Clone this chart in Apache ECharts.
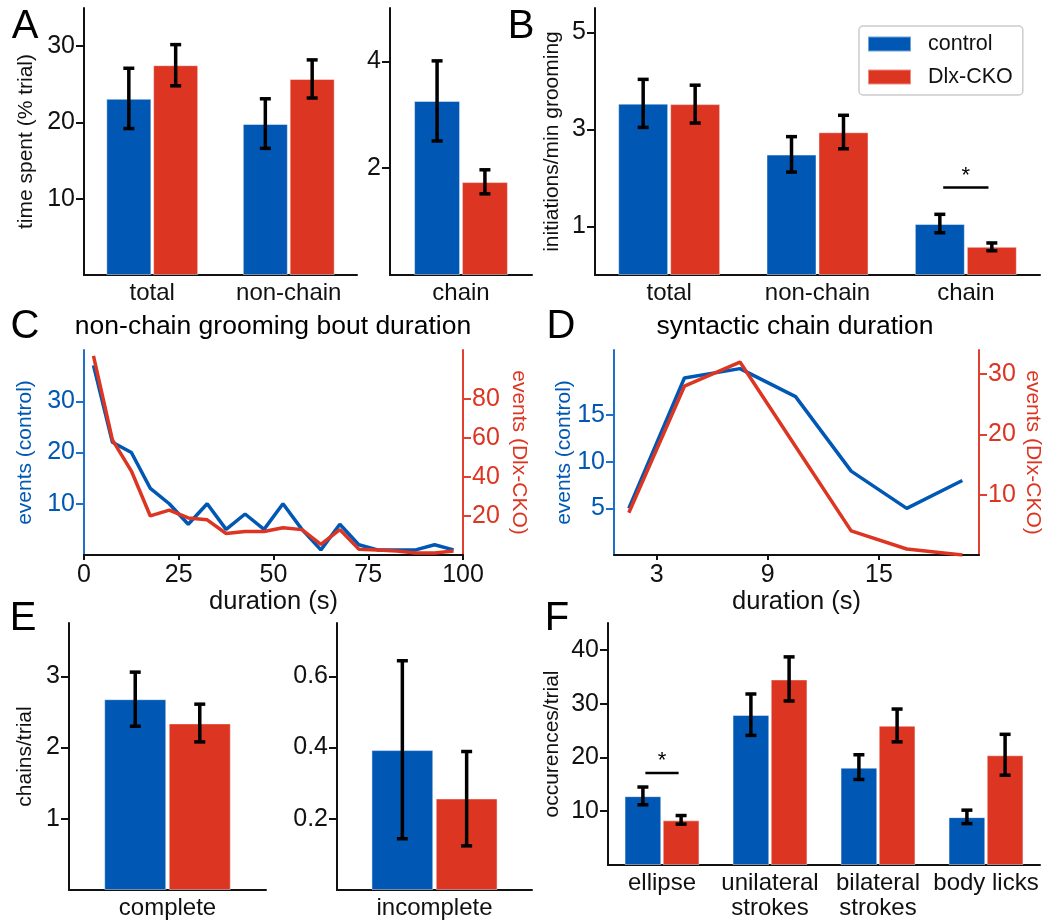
<!DOCTYPE html>
<html>
<head>
<meta charset="utf-8">
<script src="https://cdn.jsdelivr.net/npm/echarts@6/dist/echarts.min.js"></script>
<style>html,body{margin:0;padding:0;background:#fff}#main{width:1063px;height:921px}</style>
</head>
<body>
<div id="main"></div>
<script>
const BLUE = '#0058B4';
const RED = '#DC3522';
const AXBLUE = '#1F6FCC';
const AXRED = '#E0402F';
const FONT = '"Liberation Sans", Arial, Helvetica, sans-serif';

// A: time spent (% trial)
const timeCats = ['total', 'non-chain'];
const timeCtrl = [23.1, 19.8];
const timeCtrlLo = [19.2, 16.6];
const timeCtrlHi = [27.1, 23.1];
const timeCko = [27.5, 25.7];
const timeCkoLo = [24.8, 23.2];
const timeCkoHi = [30.2, 28.2];
const timeTicks = [10, 20, 30];

const chainTimeCats = ['chain'];
const chainTimeCtrl = [3.26];
const chainTimeCtrlLo = [2.51];
const chainTimeCtrlHi = [4.01];
const chainTimeCko = [1.74];
const chainTimeCkoLo = [1.52];
const chainTimeCkoHi = [1.97];
const chainTimeTicks = [2, 4];

// B: initiations/min grooming
const initCats = ['total', 'non-chain', 'chain'];
const initCtrl = [3.53, 2.48, 1.05];
const initCtrlLo = [3.04, 2.12, 0.87];
const initCtrlHi = [4.03, 2.85, 1.25];
const initCko = [3.52, 2.94, 0.58];
const initCkoLo = [3.13, 2.60, 0.50];
const initCkoHi = [3.91, 3.29, 0.66];
const initTicks = [1, 3, 5];
const initSig = [[2, 1.8]];

// C: non-chain grooming bout duration
const boutX = [2.5, 7.5, 12.5, 17.5, 22.5, 27.5, 32.5, 37.5, 42.5, 47.5, 52.5, 57.5, 62.5, 67.5, 72.5, 77.5, 82.5, 87.5, 92.5, 97.5];
const boutCtrl = [37, 22, 20, 13, 10, 6, 10, 5, 8, 5, 10, 5, 1, 6, 2, 1, 1, 1, 2, 1];
const boutCko = [102, 59, 43, 20, 23, 19, 18, 11, 12, 12, 14, 13, 5.5, 13, 3, 2.5, 2, 1, 1, 2];
const boutTicksCtrl = [10, 20, 30];
const boutTicksCko = [20, 40, 60, 80];

// D: syntactic chain duration
const chainX = [1.5, 4.5, 7.5, 10.5, 13.5, 16.5, 19.5];
const chainCtrl = [5, 19, 20, 17, 9, 5, 8];
const chainCko = [7, 28, 32, 18, 4, 1, 0];
const chainXTicks = [3, 9, 15];
const chainTicksCtrl = [5, 10, 15];
const chainTicksCko = [10, 20, 30];

// E: chains/trial
const completeCats = ['complete'];
const completeCtrl = [2.68];
const completeCtrlLo = [2.30];
const completeCtrlHi = [3.06];
const completeCko = [2.34];
const completeCkoLo = [2.08];
const completeCkoHi = [2.61];
const completeTicks = [1, 2, 3];

const incompleteCats = ['incomplete'];
const incompleteCtrl = [0.393];
const incompleteCtrlLo = [0.144];
const incompleteCtrlHi = [0.644];
const incompleteCko = [0.257];
const incompleteCkoLo = [0.124];
const incompleteCkoHi = [0.389];
const incompleteTicks = [0.2, 0.4, 0.6];

// F: occurences/trial
const moveCats = ['ellipse', 'unilateral\nstrokes', 'bilateral\nstrokes', 'body licks'];
const moveCtrl = [12.8, 27.9, 18.1, 8.9];
const moveCtrlLo = [11.2, 24.1, 15.9, 7.7];
const moveCtrlHi = [14.5, 31.8, 20.5, 10.2];
const moveCko = [8.3, 34.5, 25.9, 20.4];
const moveCkoLo = [7.6, 30.5, 22.9, 16.7];
const moveCkoHi = [9.2, 38.7, 29.0, 24.3];
const moveTicks = [10, 20, 30, 40];
const moveSig = [[0, 17.1]];

const BAR_GAP = 4; // % of bar width

function catAxis(gi, cats) {
  return {
    type: 'category', gridIndex: gi, data: cats,
    axisLine: {lineStyle: {color: '#111', width: 2}},
    axisTick: {show: false},
    axisLabel: {color: '#111', fontSize: 24, margin: 6, lineHeight: 25, interval: 0, fontFamily: FONT}
  };
}

function valAxis(gi, max, ticks, o) {
  o = o || {};
  let color = o.color || '#111';
  let labelColor = o.labelColor || color;
  let ax = {
    type: 'value', gridIndex: gi, min: 0, max: max,
    position: o.position || 'left',
    splitLine: {show: false},
    axisLine: {show: true, onZero: false, lineStyle: {color: color, width: 2}},
    axisTick: {show: true, length: 8, customValues: ticks, lineStyle: {color: color, width: 2}},
    axisLabel: {customValues: ticks, color: labelColor, fontSize: 25, margin: 9, fontFamily: FONT}
  };
  if (o.name) {
    ax.name = o.name;
    ax.nameLocation = 'middle';
    ax.nameGap = o.nameGap;
    ax.nameRotate = o.position == 'right' ? -90 : 90;
    ax.nameMoveOverlap = false;
    ax.nameTextStyle = {color: o.nameColor || labelColor, fontSize: 21, fontFamily: FONT};
  }
  return ax;
}

function barPair(xi, yi, ctrl, cko, pct) {
  let mk = (name, data, color) => ({
    type: 'bar', name: name, xAxisIndex: xi, yAxisIndex: yi, data: data,
    barWidth: pct + '%', barGap: BAR_GAP + '%',
    itemStyle: {color: color, borderColor: 'rgba(255,255,255,0.45)', borderWidth: 1},
    silent: true
  });
  return [mk('control', ctrl, BLUE), mk('Dlx-CKO', cko, RED)];
}

function errBars(xi, yi, lo, hi, side, pct) {
  return {
    type: 'custom', xAxisIndex: xi, yAxisIndex: yi, z: 10, silent: true,
    data: lo.map((l, i) => [i, l, hi[i]]),
    encode: {x: 0, y: [1, 2]},
    renderItem: function (params, api) {
      let band = api.size([1, 0])[0];
      let w = band * pct / 100;
      let off = side * (w + w * BAR_GAP / 100) / 2;
      let a = api.coord([api.value(0), api.value(1)]);
      let b = api.coord([api.value(0), api.value(2)]);
      let x = a[0] + off;
      let st = {stroke: '#000', lineWidth: 3.5};
      return {
        type: 'group', children: [
          {type: 'line', shape: {x1: x, y1: a[1], x2: x, y2: b[1]}, style: st},
          {type: 'line', shape: {x1: x - 5.5, y1: a[1], x2: x + 5.5, y2: a[1]}, style: st},
          {type: 'line', shape: {x1: x - 5.5, y1: b[1], x2: x + 5.5, y2: b[1]}, style: st}
        ]
      };
    }
  };
}

function sigMark(xi, yi, sig, pct) {
  return {
    type: 'custom', xAxisIndex: xi, yAxisIndex: yi, z: 10, silent: true,
    data: sig,
    encode: {x: 0, y: 1},
    renderItem: function (params, api) {
      let band = api.size([1, 0])[0];
      let w = band * pct / 100;
      let half = (w + w * BAR_GAP / 100) / 2 * 0.87;
      let c = api.coord([api.value(0), api.value(1)]);
      return {
        type: 'group', children: [
          {type: 'line', shape: {x1: c[0] - half, y1: c[1], x2: c[0] + half, y2: c[1]}, style: {stroke: '#000', lineWidth: 2.5}},
          {type: 'text', x: c[0], y: c[1] - 12, style: {text: '*', fill: '#000', fontSize: 22, fontFamily: FONT, align: 'center', verticalAlign: 'middle'}}
        ]
      };
    }
  };
}

function lineSeries(name, xi, yi, xs, ys, color) {
  return {
    type: 'line', name: name, xAxisIndex: xi, yAxisIndex: yi,
    data: xs.map((x, i) => [x, ys[i]]),
    showSymbol: false, silent: true,
    lineStyle: {color: color, width: 3.5}, itemStyle: {color: color}
  };
}

function durationAxis(gi, min, max, ticks, interval) {
  let ax = {
    type: 'value', gridIndex: gi, min: min, max: max,
    splitLine: {show: false},
    axisLine: {onZero: false, lineStyle: {color: '#111', width: 2}},
    axisTick: {length: 5, lineStyle: {color: '#111', width: 2}},
    axisLabel: {color: '#111', fontSize: 25, margin: 8, fontFamily: FONT},
    name: 'duration (s)', nameLocation: 'middle', nameGap: 33,
    nameTextStyle: {color: '#111', fontSize: 25.5, fontFamily: FONT}
  };
  if (interval) {
    ax.interval = interval;
  } else {
    ax.axisTick.customValues = ticks;
    ax.axisLabel.customValues = ticks;
  }
  return ax;
}

const pA1 = 33, pA2 = 32.4, pB = 33.7, pE1 = 31.5, pE2 = 31.7, pF = 34;

let option = {
  animation: false,
  backgroundColor: '#fff',
  textStyle: {fontFamily: FONT},
  grid: [
    {left: 84, top: 8, width: 273, height: 267},
    {left: 390, top: 8, width: 142, height: 267},
    {left: 595, top: 8, width: 445, height: 267},
    {left: 84, top: 350, width: 379, height: 205},
    {left: 614, top: 350, width: 365, height: 205},
    {left: 69, top: 623, width: 197, height: 267},
    {left: 337, top: 623, width: 195, height: 267},
    {left: 608, top: 623, width: 432, height: 242}
  ],
  legend: {
    data: ['control', 'Dlx-CKO'], left: 859, top: 26, orient: 'vertical',
    icon: 'rect', itemWidth: 43, itemHeight: 15, itemGap: 11,
    padding: [7, 10, 7, 8], borderColor: '#ccc', borderWidth: 1.5, borderRadius: 4,
    textStyle: {fontSize: 21.5, color: '#111', fontFamily: FONT, padding: [0, 0, 0, 12]}
  },
  xAxis: [
    catAxis(0, timeCats),
    catAxis(1, chainTimeCats),
    catAxis(2, initCats),
    durationAxis(3, 0, 100, null, 25),
    durationAxis(4, 0.7, 20.4, chainXTicks),
    catAxis(5, completeCats),
    catAxis(6, incompleteCats),
    catAxis(7, moveCats)
  ],
  yAxis: [
    valAxis(0, 35, timeTicks, {name: 'time spent (% trial)', nameGap: 47}),
    valAxis(1, 5, chainTimeTicks),
    valAxis(2, 5.5, initTicks, {name: 'initiations/min grooming', nameGap: 32}),
    valAxis(3, 40, boutTicksCtrl, {name: 'events (control)', nameGap: 48, color: AXBLUE, labelColor: BLUE}),
    valAxis(3, 105, boutTicksCko, {name: 'events (Dlx-CKO)', nameGap: 45, color: AXRED, labelColor: RED, position: 'right'}),
    valAxis(4, 22, chainTicksCtrl, {name: 'events (control)', nameGap: 39, color: AXBLUE, labelColor: BLUE}),
    valAxis(4, 34, chainTicksCko, {name: 'events (Dlx-CKO)', nameGap: 43, color: AXRED, labelColor: RED, position: 'right'}),
    valAxis(5, 3.75, completeTicks, {name: 'chains/trial', nameGap: 33}),
    valAxis(6, 0.75, incompleteTicks),
    valAxis(7, 45, moveTicks, {name: 'occurences/trial', nameGap: 45})
  ],
  series: [].concat(
    barPair(0, 0, timeCtrl, timeCko, pA1),
    errBars(0, 0, timeCtrlLo, timeCtrlHi, -1, pA1),
    errBars(0, 0, timeCkoLo, timeCkoHi, 1, pA1),
    barPair(1, 1, chainTimeCtrl, chainTimeCko, pA2),
    errBars(1, 1, chainTimeCtrlLo, chainTimeCtrlHi, -1, pA2),
    errBars(1, 1, chainTimeCkoLo, chainTimeCkoHi, 1, pA2),
    barPair(2, 2, initCtrl, initCko, pB),
    errBars(2, 2, initCtrlLo, initCtrlHi, -1, pB),
    errBars(2, 2, initCkoLo, initCkoHi, 1, pB),
    sigMark(2, 2, initSig, pB),
    lineSeries('control', 3, 3, boutX, boutCtrl, BLUE),
    lineSeries('Dlx-CKO', 3, 4, boutX, boutCko, RED),
    lineSeries('control', 4, 5, chainX, chainCtrl, BLUE),
    lineSeries('Dlx-CKO', 4, 6, chainX, chainCko, RED),
    barPair(5, 7, completeCtrl, completeCko, pE1),
    errBars(5, 7, completeCtrlLo, completeCtrlHi, -1, pE1),
    errBars(5, 7, completeCkoLo, completeCkoHi, 1, pE1),
    barPair(6, 8, incompleteCtrl, incompleteCko, pE2),
    errBars(6, 8, incompleteCtrlLo, incompleteCtrlHi, -1, pE2),
    errBars(6, 8, incompleteCkoLo, incompleteCkoHi, 1, pE2),
    barPair(7, 9, moveCtrl, moveCko, pF),
    errBars(7, 9, moveCtrlLo, moveCtrlHi, -1, pF),
    errBars(7, 9, moveCkoLo, moveCkoHi, 1, pF),
    sigMark(7, 9, moveSig, pF)
  ),
  graphic: [
    ['A', 25, 27], ['B', 521, 27], ['C', 25, 327], ['D', 561, 327], ['E', 23, 619], ['F', 557, 619]
  ].map(t => ({
    type: 'text', x: t[1], y: t[2], silent: true,
    style: {text: t[0], fontSize: 40, fill: '#000', fontFamily: FONT, align: 'center', verticalAlign: 'middle'}
  })).concat([
    {type: 'text', x: 273, y: 327, silent: true,
      style: {text: 'non-chain grooming bout duration', fontSize: 26.5, fill: '#000', fontFamily: FONT, align: 'center', verticalAlign: 'middle'}},
    {type: 'text', x: 795, y: 327, silent: true,
      style: {text: 'syntactic chain duration', fontSize: 26.5, fill: '#000', fontFamily: FONT, align: 'center', verticalAlign: 'middle'}}
  ])
};

let chart = echarts.init(document.getElementById('main'), null, {renderer: 'canvas'});
chart.setOption(option);
</script>
</body>
</html>
